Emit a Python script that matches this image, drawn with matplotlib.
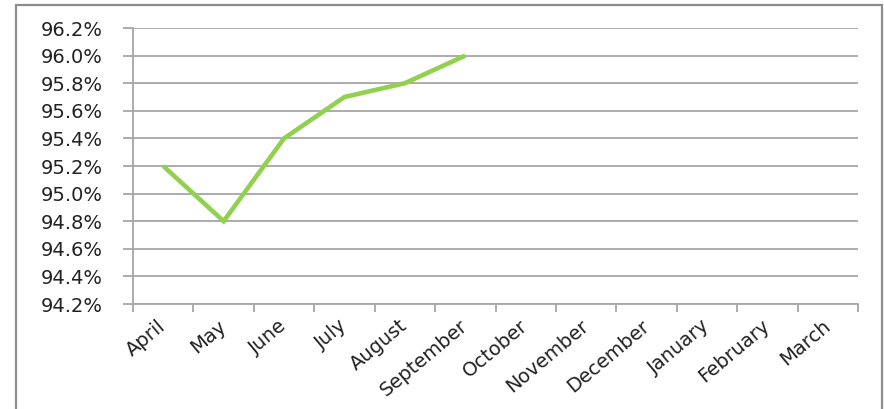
import numpy as np
import matplotlib
matplotlib.use("Agg")
import matplotlib.pyplot as plt
from matplotlib.patches import Rectangle
from matplotlib.ticker import FuncFormatter, MultipleLocator

months = ["April", "May", "June", "July", "August", "September",
          "October", "November", "December", "January", "February", "March"]
rate = [95.2, 94.8, 95.4, 95.7, 95.8, 96.0,
        np.nan, np.nan, np.nan, np.nan, np.nan, np.nan]
y_min, y_max, y_step = 94.2, 96.2, 0.2

W, H = 884, 409
fig = plt.figure(figsize=(W / 100, H / 100), dpi=100)
fig.patch.set_facecolor("white")

# outer chart frame
fig.patches.append(Rectangle((16 / W, -0.05), (882 - 16) / W, 1.05 - 5 / H,
                             transform=fig.transFigure, fill=False,
                             edgecolor="#8c8c8c", linewidth=1.6))

ax = fig.add_axes([133 / W, 1 - 304 / H, (858 - 133) / W, (304 - 28) / H])
x = np.arange(len(months))
ax.plot(x, rate, color="#92D050", linewidth=3.3, solid_capstyle="butt",
        solid_joinstyle="miter", zorder=3)

ax.set_xlim(-0.5, len(months) - 0.5)
ax.set_ylim(y_min, y_max)
ax.yaxis.set_major_locator(MultipleLocator(y_step))
ax.yaxis.set_major_formatter(FuncFormatter(lambda v, p: f"{v:.1f}%"))
ax.grid(axis="y", color="#a6a6a6", linewidth=1.3, zorder=0)
ax.set_axisbelow(True)

for s in ["top", "right"]:
    ax.spines[s].set_visible(False)
for s in ["left", "bottom"]:
    ax.spines[s].set_color("#a6a6a6")
    ax.spines[s].set_linewidth(1.3)

# category ticks sit between months, labels at month centers
ax.set_xticks(np.arange(-0.5, len(months), 1.0))
ax.set_xticklabels([])
ax.set_xticks(x, minor=True)
ax.set_xticklabels(months, minor=True, rotation=40, ha="right", va="center",
                   rotation_mode="anchor", fontsize=14, color="#222222")
ax.tick_params(axis="x", which="major", length=6, width=1.3, color="#a6a6a6")
ax.tick_params(axis="x", which="minor", length=0, pad=14)
ax.tick_params(axis="y", length=7, width=1.3, color="#a6a6a6", pad=15,
               labelsize=14, labelcolor="#222222")

fig.savefig("out.png", dpi=100, facecolor="white")
